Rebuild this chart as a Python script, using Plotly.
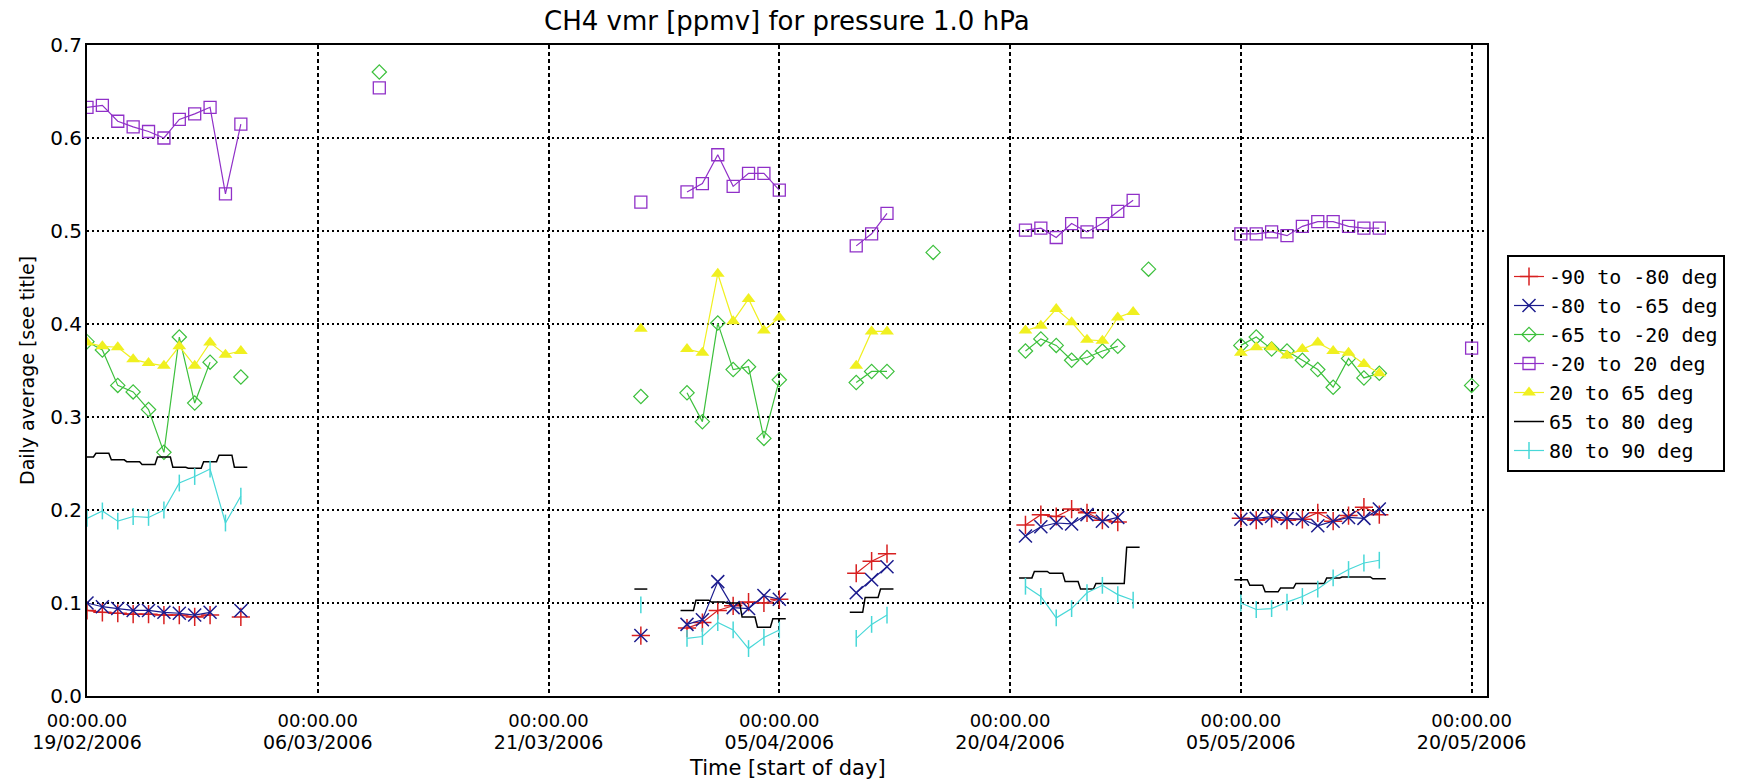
import plotly.graph_objects as go
import pandas as pd

# ---------------- data (segments: start date, daily values) ----------------
SERIES_NAMES = ["-90 to -80 deg", "-80 to -65 deg", "-65 to -20 deg", "-20 to 20 deg",
                "20 to 65 deg", "65 to 80 deg", "80 to 90 deg"]

RED = [("2006-02-19", [0.092, 0.090, 0.089, 0.088, 0.088, 0.087, 0.087, 0.085, 0.087]),
       ("2006-03-01", [0.085]),
       ("2006-03-27", [0.065]),
       ("2006-03-30", [0.073, 0.079, 0.092, 0.097, 0.101, 0.100, 0.104]),
       ("2006-04-10", [0.132, 0.145, 0.153]),
       ("2006-04-21", [0.184, 0.195, 0.193, 0.201, 0.197, 0.189, 0.187]),
       ("2006-05-05", [0.191, 0.189, 0.191, 0.189, 0.190, 0.197, 0.188, 0.194, 0.203, 0.195])]

BLUE = [("2006-02-19", [0.100, 0.096, 0.094, 0.092, 0.092, 0.090, 0.089, 0.087, 0.090]),
        ("2006-03-01", [0.092]),
        ("2006-03-27", [0.065]),
        ("2006-03-30", [0.077, 0.082, 0.123, 0.095, 0.094, 0.108, 0.104]),
        ("2006-04-10", [0.111, 0.125, 0.139]),
        ("2006-04-21", [0.172, 0.182, 0.186, 0.185, 0.195, 0.188, 0.192]),
        ("2006-05-05", [0.190, 0.191, 0.193, 0.191, 0.190, 0.183, 0.188, 0.192, 0.191, 0.201])]

GREEN = [("2006-02-19", [0.381, 0.372, 0.334, 0.327, 0.308, 0.262, 0.386, 0.315, 0.359]),
         ("2006-03-01", [0.343]),
         ("2006-03-10", [0.671]),
         ("2006-03-27", [0.322]),
         ("2006-03-30", [0.326, 0.295, 0.401, 0.351, 0.354, 0.277, 0.340]),
         ("2006-04-10", [0.337, 0.349, 0.349]),
         ("2006-04-15", [0.477]),
         ("2006-04-21", [0.371, 0.384, 0.377, 0.361, 0.364, 0.371, 0.376]),
         ("2006-04-29", [0.459]),
         ("2006-05-05", [0.377, 0.386, 0.373, 0.371, 0.361, 0.351, 0.332, 0.363, 0.342, 0.347]),
         ("2006-05-20", [0.334])]

PURPLE = [("2006-02-19", [0.633, 0.635, 0.618, 0.612, 0.607, 0.600, 0.620, 0.626, 0.633, 0.540, 0.615]),
          ("2006-03-10", [0.654]),
          ("2006-03-27", [0.531]),
          ("2006-03-30", [0.542, 0.551, 0.582, 0.548, 0.562, 0.562, 0.544]),
          ("2006-04-10", [0.484, 0.497, 0.519]),
          ("2006-04-21", [0.501, 0.503, 0.493, 0.508, 0.499, 0.508, 0.521, 0.533]),
          ("2006-05-05", [0.497, 0.497, 0.499, 0.495, 0.505, 0.510, 0.510, 0.505, 0.503, 0.503]),
          ("2006-05-20", [0.374])]

YELLOW = [("2006-02-19", [0.380, 0.376, 0.375, 0.362, 0.358, 0.355, 0.376, 0.355, 0.380, 0.367, 0.371]),
          ("2006-03-27", [0.395]),
          ("2006-03-30", [0.373, 0.369, 0.454, 0.403, 0.427, 0.393, 0.407]),
          ("2006-04-10", [0.355, 0.392, 0.392]),
          ("2006-04-21", [0.393, 0.398, 0.416, 0.402, 0.383, 0.382, 0.407, 0.413]),
          ("2006-05-05", [0.369, 0.375, 0.375, 0.366, 0.373, 0.380, 0.371, 0.369, 0.357, 0.347])]

BLACK = [("2006-02-19", [0.257, 0.261, 0.254, 0.252, 0.249, 0.257, 0.246, 0.245, 0.252, 0.259, 0.246]),
         ("2006-03-27", [0.115]),
         ("2006-03-30", [0.092, 0.103, 0.101, 0.100, 0.085, 0.074, 0.083]),
         ("2006-04-10", [0.090, 0.106, 0.115]),
         ("2006-04-21", [0.127, 0.134, 0.132, 0.123, 0.115, 0.121, 0.121, 0.160]),
         ("2006-05-05", [0.125, 0.119, 0.112, 0.116, 0.121, 0.121, 0.127, 0.128, 0.128, 0.126])]

CYAN = [("2006-02-19", [0.191, 0.199, 0.188, 0.193, 0.192, 0.200, 0.229, 0.236, 0.244, 0.186, 0.215]),
        ("2006-03-27", [0.098]),
        ("2006-03-30", [0.062, 0.064, 0.079, 0.071, 0.051, 0.063, 0.071]),
        ("2006-04-10", [0.062, 0.077, 0.087]),
        ("2006-04-21", [0.118, 0.107, 0.084, 0.094, 0.111, 0.119, 0.109, 0.103]),
        ("2006-05-05", [0.100, 0.093, 0.094, 0.101, 0.107, 0.115, 0.127, 0.136, 0.143, 0.146])]

TICK_DATES = ["2006-02-19", "2006-03-06", "2006-03-21", "2006-04-05",
              "2006-04-20", "2006-05-05", "2006-05-20"]
TICK_TIME = ["00:00.00"] * 7
TICK_DAY = ["19/02/2006", "06/03/2006", "21/03/2006", "05/04/2006",
            "20/04/2006", "05/05/2006", "20/05/2006"]
Y_TICKS = [0.0, 0.1, 0.2, 0.3, 0.4, 0.5, 0.6, 0.7]
X_RANGE = ["2006-02-19", "2006-05-21"]


def build(segs):
    xs, ys = [], []
    for i, (start, vals) in enumerate(segs):
        if i:
            xs.append(None); ys.append(None)
        d0 = pd.Timestamp(start)
        for k, v in enumerate(vals):
            xs.append((d0 + pd.Timedelta(days=k)).isoformat())
            ys.append(v)
    return xs, ys


def build_steps(segs, half=0.42):
    xs, ys = [], []
    for i, (start, vals) in enumerate(segs):
        if i:
            xs.append(None); ys.append(None)
        d0 = pd.Timestamp(start)
        for k, v in enumerate(vals):
            c = d0 + pd.Timedelta(days=k)
            xs += [(c - pd.Timedelta(days=half)).isoformat(), (c + pd.Timedelta(days=half)).isoformat()]
            ys += [v, v]
    return xs, ys


FONT = "DejaVu Sans"
MONO = "DejaVu Sans Mono"
fig = go.Figure()

RED_C, BLUE_C, GREEN_C, PURPLE_C, YELLOW_C, CYAN_C = (
    "#d82020", "#1c1c8e", "#3cc03c", "#9030c8", "#f0f020", "#48d8d8")

styles = [
    (RED, RED_C, dict(symbol="cross-thin", size=13, line=dict(width=1.5, color=RED_C))),
    (BLUE, BLUE_C, dict(symbol="x-thin", size=13, line=dict(width=1.5, color=BLUE_C))),
    (GREEN, GREEN_C, dict(symbol="diamond-open", size=11, line=dict(width=1.2, color=GREEN_C))),
    (PURPLE, PURPLE_C, dict(symbol="square-open", size=12, line=dict(width=1.3, color=PURPLE_C))),
    (YELLOW, YELLOW_C, dict(symbol="triangle-up", size=12, color=YELLOW_C, line=dict(width=0))),
]
for (segs, col, mk), name in zip(styles, SERIES_NAMES[:5]):
    x, y = build(segs)
    fig.add_trace(go.Scatter(x=x, y=y, mode="lines+markers", name=name,
                             line=dict(color=col, width=1.2), marker=mk,
                             connectgaps=False))

xb, yb = build_steps(BLACK)
fig.add_trace(go.Scatter(x=xb, y=yb, mode="lines", name=SERIES_NAMES[5],
                         line=dict(color="black", width=1.5), connectgaps=False))

xc, yc = build(CYAN)
fig.add_trace(go.Scatter(x=xc, y=yc, mode="lines+markers", name=SERIES_NAMES[6],
                         line=dict(color=CYAN_C, width=1.2),
                         marker=dict(symbol="line-ns", size=12, line=dict(width=1.5, color=CYAN_C)),
                         connectgaps=False))

L, R, T, B = 87, 259, 45, 86
W, H = 1746, 782
PW, PH = W - L - R, H - T - B

fig.update_layout(
    width=W, height=H,
    margin=dict(l=L, r=R, t=T, b=B),
    paper_bgcolor="white", plot_bgcolor="white",
    font=dict(family=FONT, size=19, color="black"),
    showlegend=True,
    legend=dict(x=(1507 - L) / PW, y=(H - B - 255) / PH, xanchor="left", yanchor="top",
                bordercolor="black", borderwidth=2, bgcolor="white",
                font=dict(family=MONO, size=20), tracegroupgap=0),
    xaxis=dict(type="date", range=X_RANGE,
               tickmode="array", tickvals=TICK_DATES, ticktext=TICK_TIME,
               showgrid=True, gridcolor="black", gridwidth=1.8, griddash="4px,3px",
               showline=True, linecolor="black", linewidth=2, mirror=True,
               ticks="", zeroline=False, tickfont=dict(size=18), ticklabelstandoff=7),
    xaxis2=dict(type="date", range=X_RANGE, overlaying="x", anchor="y", side="bottom",
                tickmode="array", tickvals=TICK_DATES, ticktext=TICK_DAY,
                showgrid=False, showline=False, ticks="", zeroline=False,
                tickfont=dict(size=19), ticklabelstandoff=33),
    yaxis=dict(range=[0, 0.7], tickmode="array", tickvals=Y_TICKS,
               tickformat=".1f",
               showgrid=True, gridcolor="black", gridwidth=1.5, griddash="2px,3px",
               showline=True, linecolor="black", linewidth=2, mirror=True,
               ticks="", zeroline=False, tickfont=dict(size=20), ticklabelstandoff=-1),
    annotations=[
        dict(text="CH4 vmr [ppmv] for pressure 1.0 hPa", xref="paper", yref="paper",
             x=0.5, y=(H - B - 21) / PH, xanchor="center", yanchor="middle",
             showarrow=False, font=dict(size=26)),
        dict(text="Time [start of day]", xref="paper", yref="paper",
             x=0.5, y=(H - B - 768) / PH, xanchor="center", yanchor="middle",
             showarrow=False, font=dict(size=21)),
        dict(text="Daily average [see title]", xref="paper", yref="paper",
             x=(27 - L) / PW, y=(H - B - 371) / PH, xanchor="center", yanchor="middle",
             textangle=-90, showarrow=False, font=dict(size=19)),
    ],
)
# invisible helper trace so the date-label axis is drawn
fig.add_trace(go.Scatter(x=X_RANGE, y=[None, None], xaxis="x2", yaxis="y",
                         mode="lines", showlegend=False, hoverinfo="skip"))

fig.write_html("out.html", config={"displayModeBar": False},
               post_script="document.body.style.margin='0';document.body.style.padding='0';")
